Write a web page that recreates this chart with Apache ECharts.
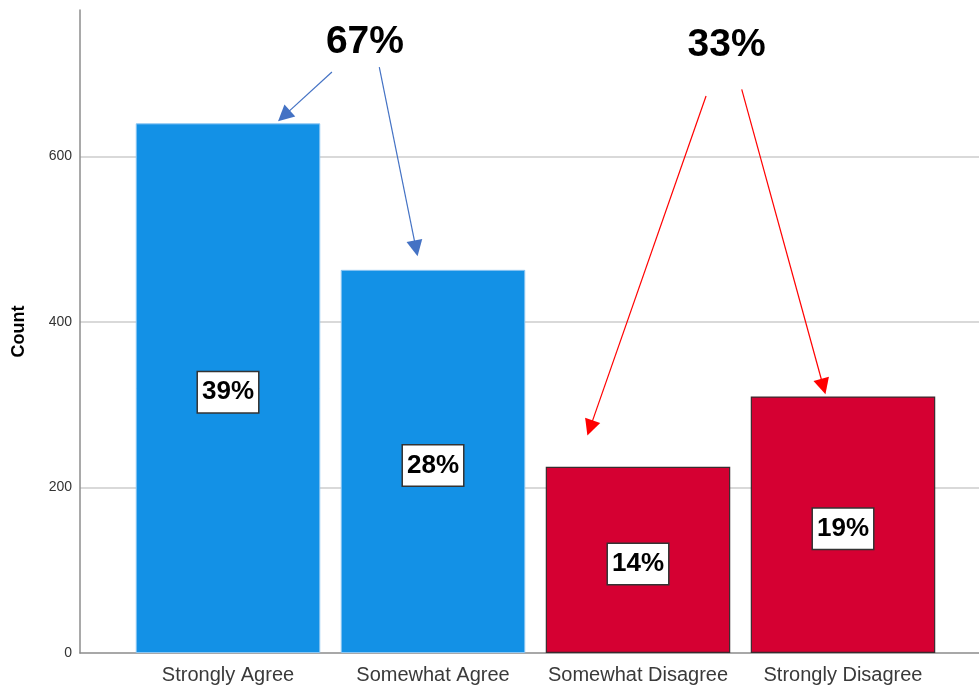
<!DOCTYPE html>
<html>
<head>
<meta charset="utf-8">
<script src="https://cdn.jsdelivr.net/npm/echarts@6/dist/echarts.min.js"></script>
<style>
  html, body { margin: 0; padding: 0; background: #fff; }
  #chart { width: 979px; height: 688px; }
</style>
</head>
<body>
<div id="chart"></div>
<script>
// Survey responses: count per answer
const categories = ['Strongly Agree', 'Somewhat Agree', 'Somewhat Disagree', 'Strongly Disagree'];
const counts = [640, 463, 225, 310];
const yTicks = [0, 200, 400, 600];

// Grouped-total callouts: arrow start/end points in (category index, count) space
const agreeArrows = [
  [[0.507, 702], [0.273, 649]],
  [[0.738, 708], [0.917, 489]]
];
const disagreeArrows = [
  [[2.332, 673], [1.766, 272]],
  [[2.506, 681], [2.904, 322]]
];
const calloutAnchors = [[0.668, 738], [2.432, 735]];

const total = counts.reduce((a, b) => a + b, 0);
const pct = v => Math.round(v / total * 100) + '%';
const agreeShare = pct(counts[0] + counts[1]);
const disagreeShare = pct(counts[2] + counts[3]);

const FONT = '"Liberation Sans", Arial, sans-serif';
const Y_MAX = 777;
const BLUE = '#1391E6';
const RED = '#D50032';

const chart = echarts.init(document.getElementById('chart'), null, { renderer: 'canvas' });

const option = {
  backgroundColor: '#fff',
  animation: false,
  grid: [
    { left: 80, right: 0, top: 10, bottom: 35 },
    { left: 125.5, right: 33.5, top: 10, bottom: 35 }
  ],
  xAxis: [
    {
      gridIndex: 0, type: 'value', min: 0, max: 1,
      axisLine: { show: true, lineStyle: { color: '#8c8c8c', width: 1.5 } },
      axisTick: { show: false }, axisLabel: { show: false }, splitLine: { show: false }
    },
    {
      gridIndex: 1, type: 'category', data: categories,
      axisLine: { show: false }, axisTick: { show: false },
      axisLabel: { interval: 0, fontFamily: FONT, fontSize: 20, color: '#3a3a3a', margin: 12 }
    },
    {
      gridIndex: 1, type: 'value', min: -0.5, max: 3.5, show: false
    }
  ],
  yAxis: [
    {
      gridIndex: 0, type: 'value', min: 0, max: Y_MAX, interval: 200,
      name: 'Count', nameLocation: 'middle', nameGap: 52,
      nameTextStyle: { fontFamily: FONT, fontSize: 18, fontWeight: 'bold', color: '#000' },
      axisLine: { show: true, lineStyle: { color: '#8c8c8c', width: 1.5 } },
      axisTick: { show: false },
      axisLabel: {
        fontFamily: FONT, fontSize: 14, color: '#333', margin: 8,
        showMaxLabel: false,
        formatter: v => (yTicks.indexOf(v) >= 0 ? String(v) : '')
      },
      splitLine: { show: true, showMinLine: false, showMaxLine: false, lineStyle: { color: '#cccccc', width: 1.5 } }
    },
    {
      gridIndex: 1, type: 'value', min: 0, max: Y_MAX, show: false
    }
  ],
  series: [
    {
      type: 'bar',
      xAxisIndex: 1, yAxisIndex: 1,
      barCategoryGap: '10%',
      data: counts.map((v, i) => ({
        value: v,
        itemStyle: i < 2
          ? { color: BLUE, borderColor: '#8cc6f2', borderWidth: 1 }
          : { color: RED, borderColor: '#3a2a2e', borderWidth: 1.2 }
      })),
      label: {
        show: true, position: 'inside', offset: [0, 4],
        formatter: p => pct(p.value),
        fontFamily: FONT, fontSize: 26, fontWeight: 'bold', color: '#000',
        lineHeight: 28, backgroundColor: '#fff',
        borderColor: '#333', borderWidth: 1.5, padding: [6, 4, 6, 4]
      }
    },
    {
      type: 'lines', coordinateSystem: 'cartesian2d',
      xAxisIndex: 2, yAxisIndex: 1,
      symbol: ['none', 'triangle'], symbolSize: [14, 16],
      lineStyle: { color: '#4472C4', width: 1.2, opacity: 1 },
      data: agreeArrows.map(c => ({ coords: c }))
    },
    {
      type: 'lines', coordinateSystem: 'cartesian2d',
      xAxisIndex: 2, yAxisIndex: 1,
      symbol: ['none', 'triangle'], symbolSize: [14, 16],
      lineStyle: { color: '#FF0000', width: 1.2, opacity: 1 },
      data: disagreeArrows.map(c => ({ coords: c }))
    },
    {
      type: 'scatter', xAxisIndex: 2, yAxisIndex: 1,
      symbolSize: 0, silent: true,
      itemStyle: { opacity: 1 },
      data: [
        { value: calloutAnchors[0], name: agreeShare },
        { value: calloutAnchors[1], name: disagreeShare }
      ],
      label: {
        show: true, position: 'inside',
        formatter: p => p.name,
        fontFamily: FONT, fontSize: 39, fontWeight: 'bold', color: '#000',
        textBorderWidth: 0
      }
    }
  ]
};

chart.setOption(option);
</script>
</body>
</html>
